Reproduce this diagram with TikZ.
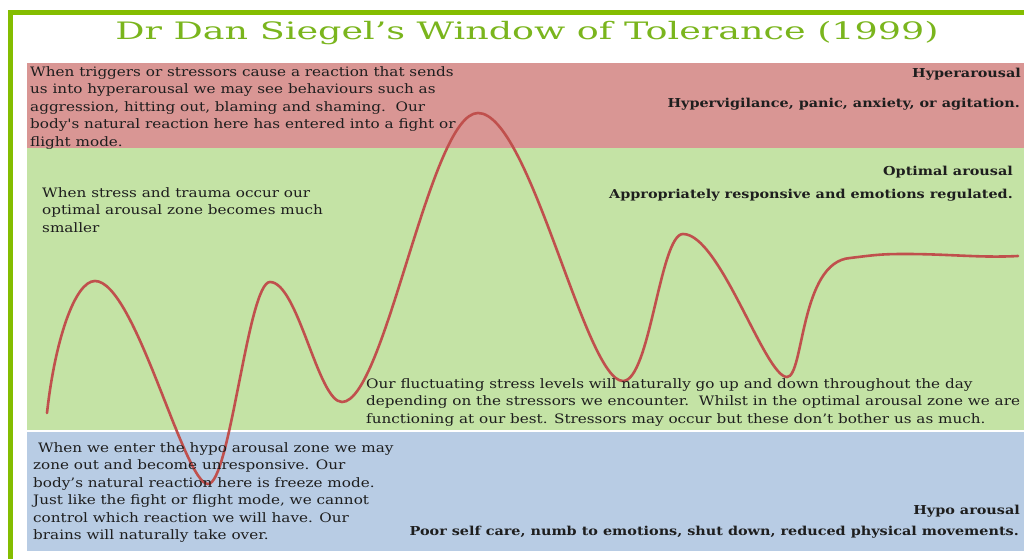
\documentclass[tikz,border=0pt]{standalone}
\usepackage{fontspec}
\setmainfont{DejaVu Serif}[FakeStretch=1.17, Ligatures=TeXOff]
\usetikzlibrary{positioning}
\definecolor{framegreen}{HTML}{84BD00}
\definecolor{titlegreen}{HTML}{7AB51D}
\definecolor{hyperred}{HTML}{D99694}
\definecolor{optgreen}{HTML}{C4E3A5}
\definecolor{hypoblue}{HTML}{B8CCE4}
\definecolor{curvered}{HTML}{C0504D}
\definecolor{inkgray}{HTML}{1E1E1E}
\tikzset{
  zonetext/.style={inner sep=0pt, text=inkgray, align=left, anchor=north west,
    font=\fontsize{13}{17.5}\selectfont},
  zonelabel/.style={inner sep=0pt, text=inkgray, anchor=base east,
    font=\bfseries\fontsize{12.3}{14}\selectfont},
  arousal/.style={draw=curvered, line width=2.6pt, line cap=round},
}

\begin{document}
\begin{tikzpicture}[x=1pt, y=1pt]
	\useasboundingbox (0,0) rectangle (1024,-559);
	\fill[hyperred] (27,-63) rectangle (1024,-148);
	\fill[optgreen] (27,-148) rectangle (1024,-430);
	\fill[hypoblue] (27,-432) rectangle (1024,-551);
	\draw[framegreen, line width=5pt] (1024,-12.5) -- (10.5,-12.5) -- (10.5,-559);

	\node[inner sep=0pt, text=titlegreen, anchor=base] (title) at (527,-40)
		{\scalebox{1.3}[1]{\fontsize{24}{24}\selectfont Dr Dan Siegel’s Window of Tolerance (1999)}};

	\draw[arousal] (47,-413) .. controls (55,-340) and (75,-281) .. (95,-281)
		.. controls (135,-281) and (184,-484) .. (208,-484)
		.. controls (230,-484) and (248,-282) .. (270,-282)
		.. controls (298,-282) and (318,-402) .. (342,-402)
		.. controls (385,-402) and (430,-113) .. (478,-113)
		.. controls (530,-113) and (585,-381) .. (623,-381)
		.. controls (650,-381) and (660,-234) .. (683,-234)
		.. controls (720,-234) and (765,-377) .. (787,-377)
		.. controls (804,-377) and (800,-262) .. (850,-258)
		.. controls (875,-255) and (880,-254) .. (905,-254)
		.. controls (950,-254) and (980,-258) .. (1018,-256);

	\node[zonetext] (hypertext) at (30,-66) {When triggers or stressors cause a reaction that sends\\
		us into hyperarousal we may see behaviours such as\\
		aggression, hitting out, blaming and shaming.\ \ Our\\
		body's natural reaction here has entered into a fight or\\
		flight mode.};
	\node[zonelabel] (hyperlabel) at (1021,-78) {Hyperarousal};
	\node[zonelabel] (hyperdesc) at (1020,-107) {Hypervigilance, panic, anxiety, or agitation.};

	\node[zonetext] (stresstext) at (42,-187) {When stress and trauma occur our\\
		optimal arousal zone becomes much\\
		smaller};
	\node[zonelabel] (optlabel) at (1013,-175) {Optimal arousal};
	\node[zonelabel] (optdesc) at (1013,-198) {Appropriately responsive and emotions regulated.};
	\node[zonetext] (fluxtext) at (366,-378) {Our fluctuating stress levels will naturally go up and down throughout the day\\
		depending on the stressors we encounter.\ \ Whilst in the optimal arousal zone we are\\
		functioning at our best. Stressors may occur but these don’t bother us as much.};

	\node[zonetext] (hypotext) at (33,-442) {\ When we enter the hypo arousal zone we may\\
		zone out and become unresponsive. Our\\
		body’s natural reaction here is freeze mode.\\
		Just like the fight or flight mode, we cannot\\
		control which reaction we will have. Our\\
		brains will naturally take over.};
	\node[zonelabel] (hypolabel) at (1020,-514) {Hypo arousal};
	\node[zonelabel] (hypodesc) at (1019,-535) {Poor self care, numb to emotions, shut down, reduced physical movements.};
\end{tikzpicture}
\end{document}
